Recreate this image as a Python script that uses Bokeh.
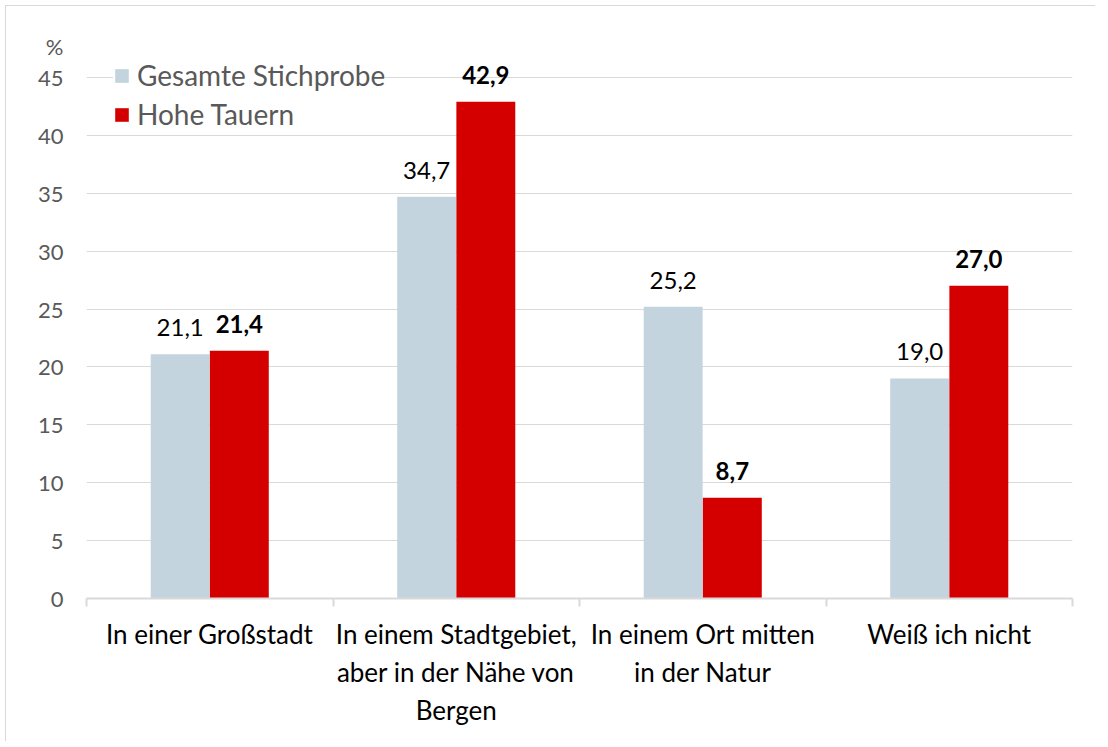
import numpy as np
from bokeh.plotting import figure
from bokeh.models import ColumnDataSource, FixedTicker, Range1d, Legend, LegendItem
from bokeh.core.properties import value
from bokeh.embed import file_html
from bokeh.resources import INLINE

# ---- data ----
categories = [
    "In einer Großstadt",
    "In einem Stadtgebiet,\naber in der Nähe von\nBergen",
    "In einem Ort mitten\nin der Natur",
    "Weiß ich nicht",
]
gesamt = [21.1, 34.7, 25.2, 19.0]
hohe_tauern = [21.4, 42.9, 8.7, 27.0]
series_names = ["Gesamte Stichprobe", "Hohe Tauern"]
y_ticks = [0, 5, 10, 15, 20, 25, 30, 35, 40, 45]
unit_label = "%"
unit_pos = 47.7

# ---- style ----
C_GRAY = "#C4D4DE"
C_RED = "#D40000"
FONT = "Lato"
GRID = "#D9D9D9"
TXT_GRAY = "#595959"

n = len(categories)
centers = np.arange(n) + 0.5
bounds = np.arange(n + 1).astype(float)
bw = 0.239
off = 0.12

def fmt(v):
    return f"{v:.1f}".replace(".", ",")

src_g = ColumnDataSource(dict(x=centers - off, top=gesamt, lab=[fmt(v) for v in gesamt]))
src_r = ColumnDataSource(dict(x=centers + off, top=hohe_tauern, lab=[fmt(v) for v in hohe_tauern]))

p = figure(width=1090, height=736, output_backend="svg", toolbar_location=None,
           x_range=Range1d(0, n), y_range=Range1d(0, 50),
           min_border_left=80, min_border_right=24, min_border_top=13, min_border_bottom=144)
p.outline_line_color = None
p.background_fill_color = "white"
p.border_fill_color = "white"
p.styles = {"border-left": "1px solid #D9D9D9", "border-top": "1px solid #D9D9D9",
            "margin-left": "5px", "margin-top": "5px"}

rg = p.vbar(x="x", top="top", width=bw, bottom=0, source=src_g, fill_color=C_GRAY, line_color=None)
rr = p.vbar(x="x", top="top", width=bw, bottom=0, source=src_r, fill_color=C_RED, line_color=None)

p.text(x="x", y="top", text="lab", source=src_g, text_align="center", text_baseline="bottom",
       y_offset=-18, text_font=value(FONT), text_font_size="24px", text_color="black")
p.text(x="x", y="top", text="lab", source=src_r, text_align="center", text_baseline="bottom",
       y_offset=-18, text_font=value(FONT), text_font_size="24px", text_color="black",
       text_font_style="bold")

# y axis (unit "%" shown as a label above the top tick)
p.yaxis.ticker = FixedTicker(ticks=y_ticks + [unit_pos])
p.yaxis.major_label_overrides = {unit_pos: unit_label}
p.yaxis.axis_line_color = None
p.yaxis.major_tick_line_color = None
p.yaxis.minor_tick_line_color = None
p.yaxis.major_tick_out = 0
p.yaxis.major_label_standoff = 23
p.yaxis.major_label_text_font = FONT
p.yaxis.major_label_text_font_size = "22px"
p.yaxis.major_label_text_color = TXT_GRAY
p.ygrid.ticker = FixedTicker(ticks=y_ticks)
p.ygrid.grid_line_color = GRID
p.ygrid.grid_line_width = 1
p.xgrid.grid_line_color = None

# x axis
p.xaxis.ticker = FixedTicker(ticks=list(centers), minor_ticks=list(bounds))
p.xaxis.major_label_overrides = {float(c): lab for c, lab in zip(centers, categories)}
p.xaxis.axis_line_color = GRID
p.xaxis.axis_line_width = 2
p.xaxis.major_tick_line_color = None
p.xaxis.major_tick_out = 0
p.xaxis.major_tick_in = 0
p.xaxis.minor_tick_line_color = GRID
p.xaxis.minor_tick_line_width = 2
p.xaxis.minor_tick_out = 8
p.xaxis.minor_tick_in = 0
p.xaxis.major_label_standoff = 11
p.xaxis.major_label_text_font = FONT
p.xaxis.major_label_text_font_size = "26px"
p.xaxis.major_label_text_color = "black"

legend = Legend(items=[LegendItem(label=series_names[0], renderers=[rg]),
                       LegendItem(label=series_names[1], renderers=[rr])],
                location=(27, 467), orientation="vertical")
legend.glyph_width = 17
legend.glyph_height = 17
legend.label_standoff = 7
legend.spacing = 5
legend.padding = 0
legend.margin = 0
legend.border_line_color = None
legend.background_fill_color = "white"
legend.background_fill_alpha = 1
legend.label_text_font = FONT
legend.label_text_font_size = "28px"
legend.label_text_color = TXT_GRAY
p.add_layout(legend)

open("out.html", "w").write(file_html(p, INLINE))
